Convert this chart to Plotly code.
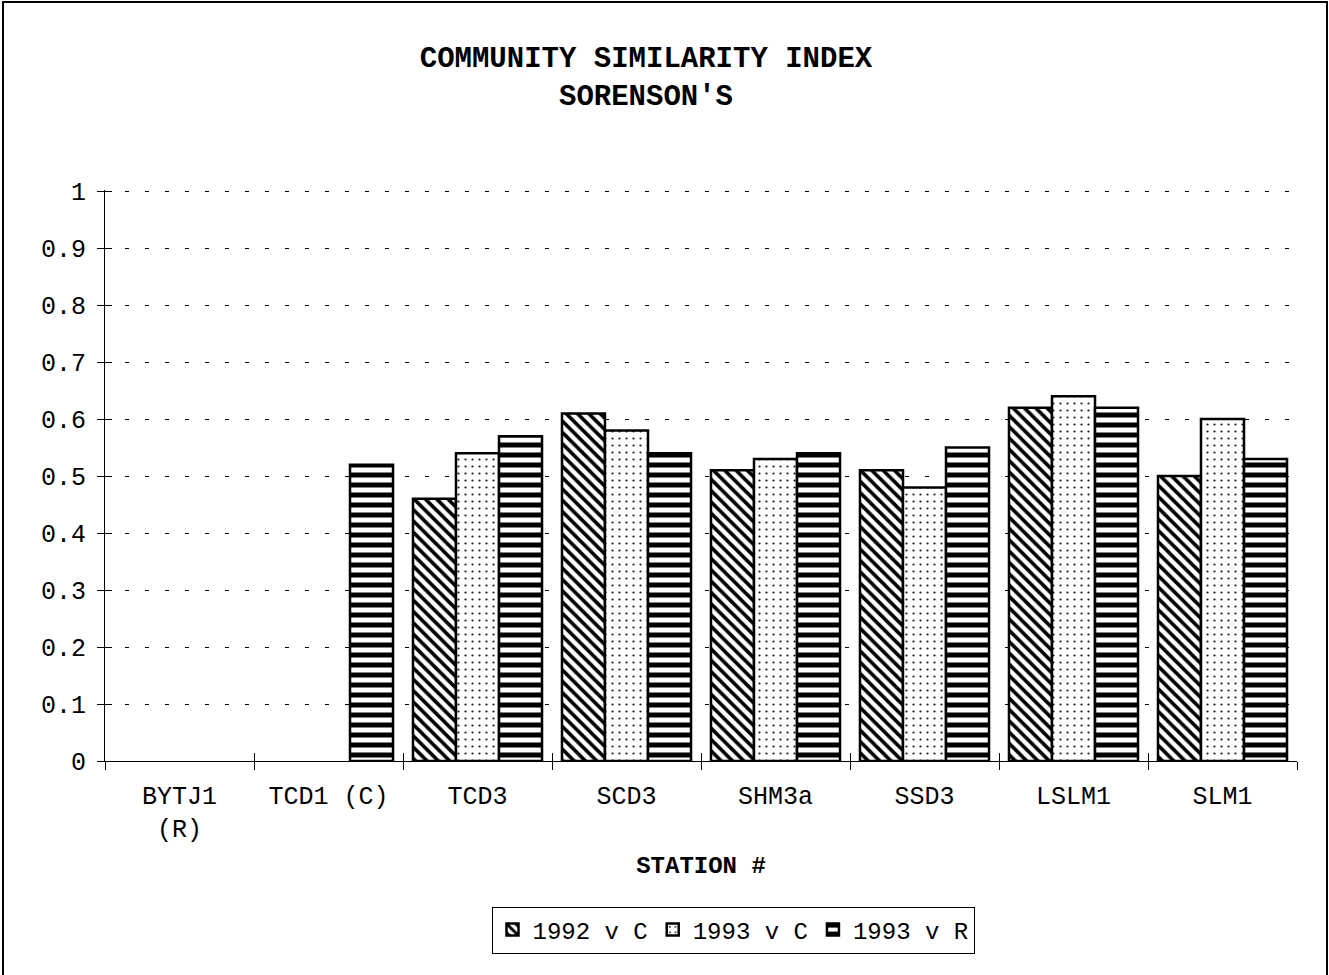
import plotly.graph_objects as go

stations = ["BYTJ1<br>(R)", "TCD1 (C)", "TCD3", "SCD3", "SHM3a", "SSD3", "LSLM1", "SLM1"]
v1992_c = [None, None, 0.46, 0.61, 0.51, 0.51, 0.62, 0.50]
v1993_c = [None, None, 0.54, 0.58, 0.53, 0.48, 0.64, 0.60]
v1993_r = [None, 0.52, 0.57, 0.54, 0.54, 0.55, 0.62, 0.53]
series_names = ["1992 v C", "1993 v C", "1993 v R"]
y_ticks = [0, 0.1, 0.2, 0.3, 0.4, 0.5, 0.6, 0.7, 0.8, 0.9, 1]
y_tick_text = ["0", "0.1", "0.2", "0.3", "0.4", "0.5", "0.6", "0.7", "0.8", "0.9", "1"]

W, H = 1329, 975
L, R, T, B = 105, 1297, 190, 761
FONT = "Courier New, Liberation Mono, monospace"
Y_TOP = 1.002  # tiny headroom so the gridline at 1 is kept


def px_x(x):
    return (x - L) / (R - L)


def px_y(y):
    return (B - y) / (B - T)


patterns = [
    dict(shape="\\", size=8, solidity=0.45, fgcolor="black", bgcolor="white", fillmode="replace"),
    dict(shape=".", size=7, solidity=0.08, fgcolor="#1a1a1a", bgcolor="white", fillmode="replace"),
    dict(shape="-", size=10, solidity=0.5, fgcolor="black", bgcolor="white", fillmode="replace"),
]

fig = go.Figure()
for name, vals, pat in zip(series_names, [v1992_c, v1993_c, v1993_r], patterns):
    fig.add_trace(go.Bar(
        x=stations, y=vals, name=name,
        marker=dict(color="white", pattern=pat, line=dict(color="black", width=2.5)),
    ))

# companion axes give the tick marks their inner half
fig.add_trace(go.Scatter(x=stations, y=[None] * len(stations), xaxis="x2", yaxis="y2",
                         showlegend=False, hoverinfo="skip"))

tick_font = dict(family=FONT, size=25, color="black")

fig.update_layout(
    width=W, height=H,
    margin=dict(l=L, r=W - R, t=T, b=H - B, pad=0),
    paper_bgcolor="white", plot_bgcolor="white",
    barmode="group", bargap=0.134, bargroupgap=0,
    title=dict(
        text="<b>COMMUNITY SIMILARITY INDEX<br>SORENSON'S</b>",
        font=dict(family=FONT, size=29, color="black"),
        x=646 / W, xanchor="center", y=1 - 67 / H, yanchor="middle",
    ),
    xaxis=dict(
        type="category", categoryorder="array", categoryarray=stations,
        range=[-0.5, len(stations) - 0.5],
        showline=True, linecolor="black", linewidth=1,
        ticks="outside", ticklen=8, tickcolor="black", tickwidth=1, tickson="boundaries",
        tickfont=tick_font, ticklabelstandoff=12, showgrid=False,
        title=dict(text="<b>STATION #</b>", font=dict(family=FONT, size=24, color="black"), standoff=12),
    ),
    yaxis=dict(
        range=[0, Y_TOP], tickvals=y_ticks, ticktext=y_tick_text,
        showline=True, linecolor="black", linewidth=1,
        ticks="outside", ticklen=7, tickcolor="black", tickwidth=1,
        tickfont=tick_font, ticklabelstandoff=6,
        showgrid=True, gridcolor="black", gridwidth=1, griddash="4px,16px",
        zeroline=False,
    ),
    xaxis2=dict(
        type="category", categoryorder="array", categoryarray=stations,
        range=[-0.5, len(stations) - 0.5], overlaying="x", anchor="y2",
        ticks="inside", ticklen=8, tickcolor="black", tickwidth=1, tickson="boundaries",
        showticklabels=False, showgrid=False, showline=False, zeroline=False,
    ),
    yaxis2=dict(
        range=[0, Y_TOP], tickvals=y_ticks, overlaying="y", anchor="x2", side="left",
        ticks="inside", ticklen=7, tickcolor="black", tickwidth=1,
        showticklabels=False, showgrid=False, showline=False, zeroline=False,
    ),
    legend=dict(
        orientation="h", x=px_x(733), xanchor="center", y=px_y(930), yanchor="middle",
        bordercolor="black", borderwidth=1, bgcolor="white",
        font=dict(family=FONT, size=24, color="black"),
        itemwidth=30, tracegroupgap=0,
    ),
    showlegend=True,
)

# outer frame of the chart
fig.add_shape(type="rect", xref="paper", yref="paper",
              x0=px_x(3), x1=px_x(1327), y0=px_y(H + 5), y1=px_y(2),
              line=dict(color="black", width=2), fillcolor="rgba(0,0,0,0)", layer="below")

fig.write_html("out.html")
